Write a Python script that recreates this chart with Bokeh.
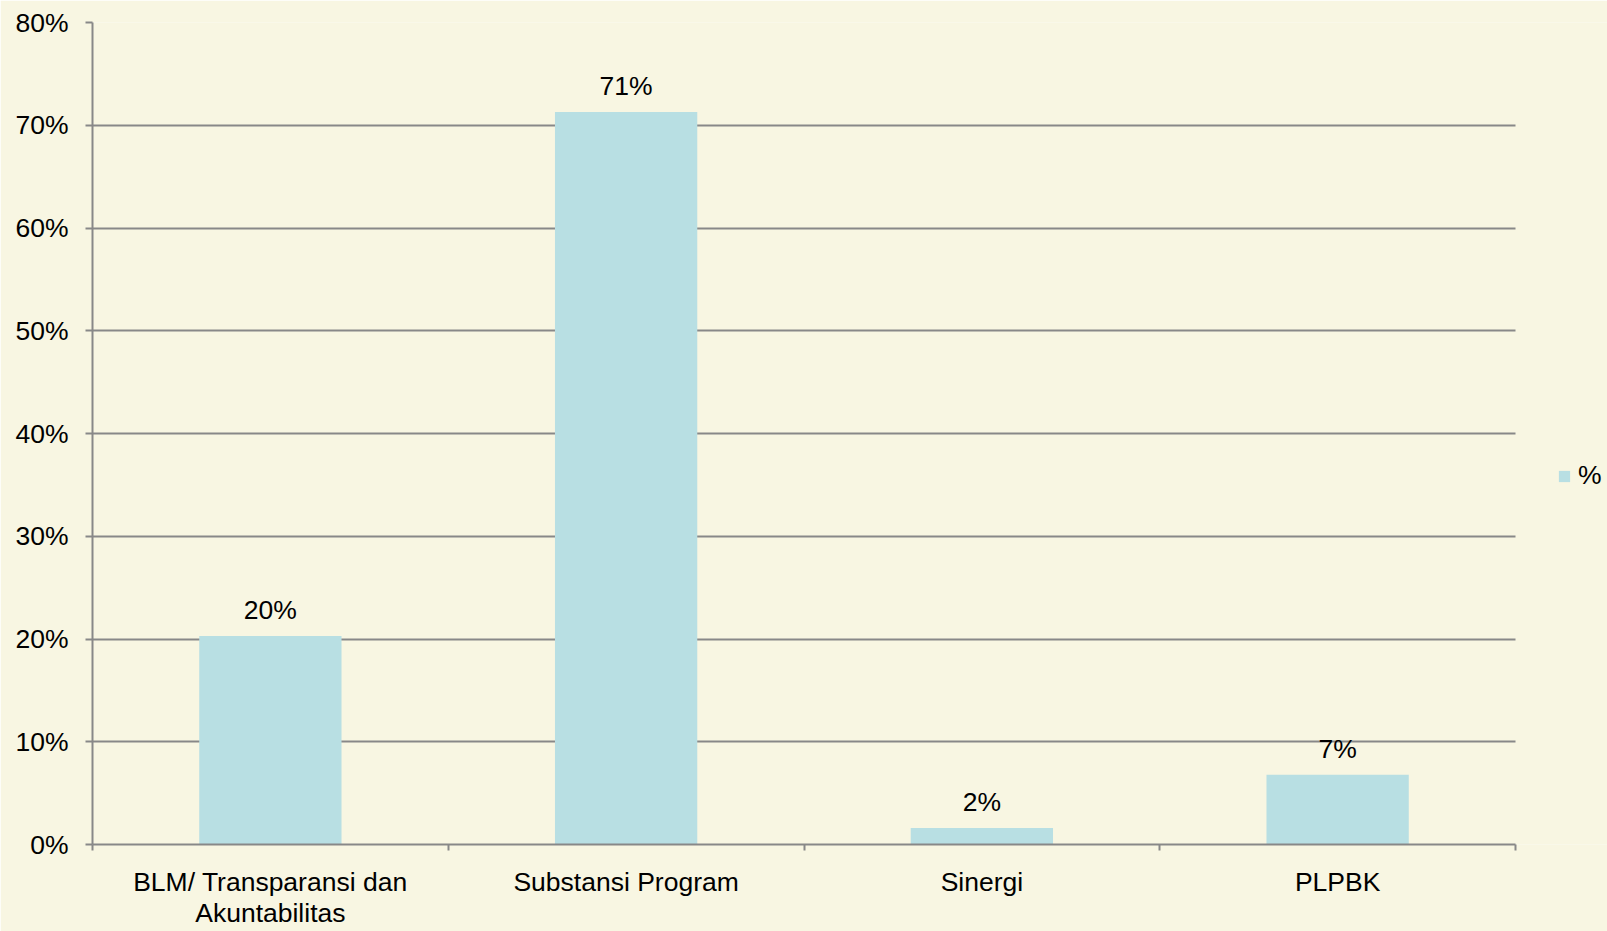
from bokeh.plotting import figure
from bokeh.models import (ColumnDataSource, FixedTicker, NumeralTickFormatter,
                          LabelSet, Legend, LegendItem, Range1d)
from bokeh.core.properties import value
from bokeh.embed import file_html
from bokeh.resources import INLINE

# ---- data ----
categories = ["BLM/ Transparansi dan\nAkuntabilitas", "Substansi Program", "Sinergi", "PLPBK"]
percent = [20.3, 71.3, 1.6, 6.8]
value_labels = ["20%", "71%", "2%", "7%"]
y_ticks = [0, 10, 20, 30, 40, 50, 60, 70, 80]
series_name = "%"

FONT = "Liberation Sans"
FS = "26.5px"
BAR = "#b8dfe3"
GRID = "#888888"
BG = "#f8f6e2"

W, H = 1607, 931
LEFT, TOP, BOTTOM = 92, 22, 86
PLOT_RIGHT = 1515          # pixel where the category axis ends
n = len(categories)
x_end = n * (W - LEFT) / (PLOT_RIGHT - LEFT)   # frame runs to the page edge (room for legend)

xs = [i + 0.5 for i in range(n)]
src = ColumnDataSource(dict(x=xs, top=[v / 100 for v in percent], lab=value_labels))

p = figure(width=W, height=H, output_backend="svg", toolbar_location=None,
           x_range=Range1d(0, x_end), y_range=Range1d(0, max(y_ticks) / 100),
           min_border_left=LEFT, min_border_right=0, min_border_top=TOP, min_border_bottom=BOTTOM,
           background_fill_color=BG, border_fill_color=BG, outline_line_color=None)

# y axis
yt = FixedTicker(ticks=[t / 100 for t in y_ticks])
p.yaxis.ticker = yt
p.yaxis.formatter = NumeralTickFormatter(format="0%")
p.yaxis.axis_line_color = GRID
p.yaxis.axis_line_width = 2
p.yaxis.major_tick_line_color = GRID
p.yaxis.major_tick_line_width = 2
p.yaxis.major_tick_out = 7
p.yaxis.major_tick_in = 0
p.yaxis.minor_tick_line_color = None
p.yaxis.major_label_text_font = FONT
p.yaxis.major_label_text_font_size = FS
p.yaxis.major_label_text_color = "black"
p.yaxis.major_label_standoff = 17

p.xgrid.visible = False
try:
    p.ygrid.ticker = yt
    p.ygrid.cross_bounds = (0, n)
    p.ygrid.grid_line_color = GRID
    p.ygrid.grid_line_width = 2
except AttributeError:
    p.ygrid.visible = False
    gy = [t / 100 for t in y_ticks]
    p.segment(x0=[0] * len(gy), x1=[n] * len(gy), y0=gy, y1=gy,
              line_color=GRID, line_width=2)

r = p.vbar(x="x", top="top", width=0.4, source=src, fill_color=BAR, line_color=None)

# x axis
p.xaxis.bounds = (0, n)
p.xaxis.ticker = FixedTicker(ticks=xs, minor_ticks=list(range(n + 1)))
p.xaxis.major_label_overrides = {x: c for x, c in zip(xs, categories)}
p.xaxis.axis_line_color = GRID
p.xaxis.axis_line_width = 2
p.xaxis.major_tick_line_color = None
p.xaxis.major_tick_out = 0
p.xaxis.major_tick_in = 0
p.xaxis.minor_tick_line_color = GRID
p.xaxis.minor_tick_line_width = 2
p.xaxis.minor_tick_out = 6
p.xaxis.minor_tick_in = 0
p.xaxis.major_label_text_font = FONT
p.xaxis.major_label_text_font_size = FS
p.xaxis.major_label_text_color = "black"
p.xaxis.major_label_text_line_height = 1.05
p.xaxis.major_label_standoff = 16

# value labels
labels = LabelSet(x="x", y="top", text="lab", source=src, y_offset=17,
                  text_align="center", text_baseline="alphabetic",
                  text_font=value(FONT), text_font_size=FS, text_color="black")
p.add_layout(labels)

# legend
legend = Legend(items=[LegendItem(label=series_name, renderers=[r])],
                location=(1465, 353), padding=0, margin=0, spacing=0,
                glyph_width=14, glyph_height=14, label_standoff=7, label_height=14,
                label_text_font=FONT, label_text_font_size=FS, label_text_color="black",
                background_fill_alpha=0, border_line_color=None)
p.add_layout(legend, "center")

open("out.html", "w").write(file_html(p, INLINE))
